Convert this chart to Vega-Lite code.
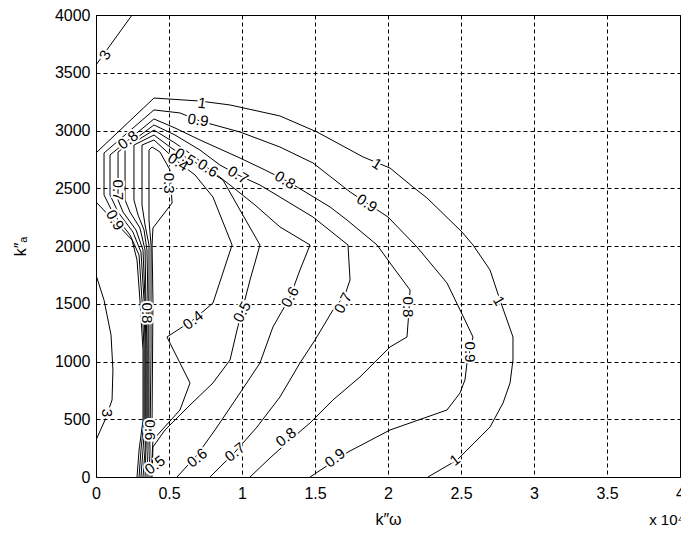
{
"$schema": "https://vega.github.io/schema/vega-lite/v6.json",
"width": 584, "height": 462,
"autosize": {"type": "none"},
"padding": {"left": 96, "top": 15, "right": 1, "bottom": 58},
"background": "white",
"config": {
 "font": "Liberation Sans",
 "view": {"stroke": "#000", "strokeWidth": 1},
 "axis": {"grid": true, "gridColor": "#000", "gridDash": [4, 3], "gridOpacity": 1, "gridWidth": 1, "domain": false, "ticks": false, "labelFont": "Liberation Sans", "labelFontSize": 16, "labelColor": "#000", "titleFont": "Liberation Sans", "titleFontSize": 16, "titleFontWeight": "normal", "titleColor": "#000"}
},
"title": {"text": "x 10⁴", "orient": "bottom", "anchor": "end", "frame": "group", "fontSize": 15, "fontWeight": "normal", "font": "Liberation Sans", "color": "#000", "offset": -14, "dx": 4},
"datasets": {
 "contours": [
  {"c":"1a","i":0,"x":0.007,"y":2814},{"c":"1a","i":1,"x":0.397,"y":3281},{"c":"1a","i":2,"x":0.712,"y":3255},{"c":"1a","i":3,"x":0.918,"y":3221},{"c":"1a","i":4,"x":1.26,"y":3126},{"c":"1a","i":5,"x":1.514,"y":2987},{"c":"1a","i":6,"x":1.829,"y":2771},{"c":"1a","i":7,"x":2.014,"y":2675},{"c":"1a","i":8,"x":2.171,"y":2511},{"c":"1a","i":9,"x":2.267,"y":2416},{"c":"1a","i":10,"x":2.507,"y":2121},{"c":"1a","i":11,"x":2.582,"y":2009},{"c":"1a","i":12,"x":2.699,"y":1792},{"c":"1a","i":13,"x":2.767,"y":1532},{"c":"1a","i":14,"x":2.856,"y":1212},{"c":"1a","i":15,"x":2.856,"y":1013},{"c":"1a","i":16,"x":2.836,"y":814},{"c":"1a","i":17,"x":2.788,"y":641},{"c":"1a","i":18,"x":2.699,"y":433},{"c":"1a","i":19,"x":2.473,"y":147},{"c":"1a","i":20,"x":2.274,"y":0},
  {"c":"1b","i":0,"x":0.007,"y":2372},{"c":"1b","i":1,"x":0.13,"y":2208},{"c":"1b","i":2,"x":0.247,"y":2052},{"c":"1b","i":3,"x":0.281,"y":1879},{"c":"1b","i":4,"x":0.301,"y":1532},{"c":"1b","i":5,"x":0.322,"y":1100},{"c":"1b","i":6,"x":0.322,"y":494},{"c":"1b","i":7,"x":0.295,"y":234},{"c":"1b","i":8,"x":0.281,"y":0},
  {"c":"p9","i":0,"x":0.295,"y":0},{"c":"p9","i":1,"x":0.308,"y":234},{"c":"p9","i":2,"x":0.329,"y":494},{"c":"p9","i":3,"x":0.329,"y":1100},{"c":"p9","i":4,"x":0.315,"y":1532},{"c":"p9","i":5,"x":0.295,"y":1922},{"c":"p9","i":6,"x":0.233,"y":2095},{"c":"p9","i":7,"x":0.116,"y":2286},{"c":"p9","i":8,"x":0.055,"y":2442},{"c":"p9","i":9,"x":0.055,"y":2805},{"c":"p9","i":10,"x":0.397,"y":3178},{"c":"p9","i":11,"x":0.575,"y":3152},{"c":"p9","i":12,"x":0.712,"y":3082},{"c":"p9","i":13,"x":0.986,"y":2987},{"c":"p9","i":14,"x":1.26,"y":2857},{"c":"p9","i":15,"x":1.486,"y":2719},{"c":"p9","i":16,"x":1.74,"y":2468},{"c":"p9","i":17,"x":2.0,"y":2251},{"c":"p9","i":18,"x":2.199,"y":1991},{"c":"p9","i":19,"x":2.404,"y":1680},{"c":"p9","i":20,"x":2.527,"y":1359},{"c":"p9","i":21,"x":2.582,"y":1212},{"c":"p9","i":22,"x":2.541,"y":987},{"c":"p9","i":23,"x":2.527,"y":840},{"c":"p9","i":24,"x":2.493,"y":727},{"c":"p9","i":25,"x":2.404,"y":580},{"c":"p9","i":26,"x":2.014,"y":407},{"c":"p9","i":27,"x":1.726,"y":216},{"c":"p9","i":28,"x":1.466,"y":0},
  {"c":"p8","i":0,"x":0.308,"y":0},{"c":"p8","i":1,"x":0.322,"y":234},{"c":"p8","i":2,"x":0.336,"y":494},{"c":"p8","i":3,"x":0.336,"y":1100},{"c":"p8","i":4,"x":0.329,"y":1532},{"c":"p8","i":5,"x":0.308,"y":1948},{"c":"p8","i":6,"x":0.253,"y":2121},{"c":"p8","i":7,"x":0.151,"y":2294},{"c":"p8","i":8,"x":0.096,"y":2442},{"c":"p8","i":9,"x":0.096,"y":2788},{"c":"p8","i":10,"x":0.397,"y":3100},{"c":"p8","i":11,"x":0.541,"y":3022},{"c":"p8","i":12,"x":0.712,"y":2918},{"c":"p8","i":13,"x":0.986,"y":2762},{"c":"p8","i":14,"x":1.158,"y":2658},{"c":"p8","i":15,"x":1.295,"y":2571},{"c":"p8","i":16,"x":1.377,"y":2511},{"c":"p8","i":17,"x":1.603,"y":2338},{"c":"p8","i":18,"x":1.719,"y":2225},{"c":"p8","i":19,"x":1.925,"y":2009},{"c":"p8","i":20,"x":2.014,"y":1853},{"c":"p8","i":21,"x":2.151,"y":1619},{"c":"p8","i":22,"x":2.144,"y":1446},{"c":"p8","i":23,"x":2.13,"y":1212},{"c":"p8","i":24,"x":2.014,"y":1126},{"c":"p8","i":25,"x":1.808,"y":866},{"c":"p8","i":26,"x":1.623,"y":667},{"c":"p8","i":27,"x":1.466,"y":468},{"c":"p8","i":28,"x":1.329,"y":320},{"c":"p8","i":29,"x":1.192,"y":165},{"c":"p8","i":30,"x":1.055,"y":0},
  {"c":"p7","i":0,"x":0.322,"y":0},{"c":"p7","i":1,"x":0.336,"y":234},{"c":"p7","i":2,"x":0.342,"y":494},{"c":"p7","i":3,"x":0.342,"y":1100},{"c":"p7","i":4,"x":0.336,"y":1532},{"c":"p7","i":5,"x":0.322,"y":1965},{"c":"p7","i":6,"x":0.274,"y":2139},{"c":"p7","i":7,"x":0.185,"y":2294},{"c":"p7","i":8,"x":0.151,"y":2398},{"c":"p7","i":9,"x":0.151,"y":2814},{"c":"p7","i":10,"x":0.397,"y":3048},{"c":"p7","i":11,"x":0.541,"y":2961},{"c":"p7","i":12,"x":0.712,"y":2831},{"c":"p7","i":13,"x":0.849,"y":2701},{"c":"p7","i":14,"x":0.973,"y":2615},{"c":"p7","i":15,"x":1.123,"y":2528},{"c":"p7","i":16,"x":1.26,"y":2424},{"c":"p7","i":17,"x":1.486,"y":2251},{"c":"p7","i":18,"x":1.726,"y":2009},{"c":"p7","i":19,"x":1.74,"y":1706},{"c":"p7","i":20,"x":1.705,"y":1576},{"c":"p7","i":21,"x":1.623,"y":1446},{"c":"p7","i":22,"x":1.5,"y":1186},{"c":"p7","i":23,"x":1.397,"y":987},{"c":"p7","i":24,"x":1.26,"y":693},{"c":"p7","i":25,"x":1.103,"y":433},{"c":"p7","i":26,"x":0.952,"y":216},{"c":"p7","i":27,"x":0.781,"y":0},
  {"c":"p6","i":0,"x":0.336,"y":0},{"c":"p6","i":1,"x":0.342,"y":234},{"c":"p6","i":2,"x":0.349,"y":494},{"c":"p6","i":3,"x":0.349,"y":1100},{"c":"p6","i":4,"x":0.342,"y":1532},{"c":"p6","i":5,"x":0.336,"y":1965},{"c":"p6","i":6,"x":0.301,"y":2156},{"c":"p6","i":7,"x":0.233,"y":2294},{"c":"p6","i":8,"x":0.199,"y":2398},{"c":"p6","i":9,"x":0.199,"y":2848},{"c":"p6","i":10,"x":0.397,"y":3004},{"c":"p6","i":11,"x":0.541,"y":2892},{"c":"p6","i":12,"x":0.678,"y":2771},{"c":"p6","i":13,"x":0.767,"y":2675},{"c":"p6","i":14,"x":0.918,"y":2528},{"c":"p6","i":15,"x":1.089,"y":2355},{"c":"p6","i":16,"x":1.26,"y":2165},{"c":"p6","i":17,"x":1.466,"y":2009},{"c":"p6","i":18,"x":1.397,"y":1792},{"c":"p6","i":19,"x":1.329,"y":1558},{"c":"p6","i":20,"x":1.212,"y":1299},{"c":"p6","i":21,"x":1.123,"y":987},{"c":"p6","i":22,"x":0.986,"y":727},{"c":"p6","i":23,"x":0.815,"y":407},{"c":"p6","i":24,"x":0.692,"y":190},{"c":"p6","i":25,"x":0.555,"y":0},
  {"c":"p5","i":0,"x":0.349,"y":0},{"c":"p5","i":1,"x":0.356,"y":234},{"c":"p5","i":2,"x":0.356,"y":494},{"c":"p5","i":3,"x":0.356,"y":1100},{"c":"p5","i":4,"x":0.356,"y":1532},{"c":"p5","i":5,"x":0.349,"y":1965},{"c":"p5","i":6,"x":0.329,"y":2139},{"c":"p5","i":7,"x":0.288,"y":2268},{"c":"p5","i":8,"x":0.26,"y":2398},{"c":"p5","i":9,"x":0.26,"y":2874},{"c":"p5","i":10,"x":0.397,"y":2961},{"c":"p5","i":11,"x":0.507,"y":2857},{"c":"p5","i":12,"x":0.61,"y":2771},{"c":"p5","i":13,"x":0.712,"y":2701},{"c":"p5","i":14,"x":0.87,"y":2571},{"c":"p5","i":15,"x":0.986,"y":2312},{"c":"p5","i":16,"x":1.123,"y":2009},{"c":"p5","i":17,"x":1.055,"y":1706},{"c":"p5","i":18,"x":1.007,"y":1472},{"c":"p5","i":19,"x":0.966,"y":1273},{"c":"p5","i":20,"x":0.918,"y":1013},{"c":"p5","i":21,"x":0.801,"y":814},{"c":"p5","i":22,"x":0.644,"y":623},{"c":"p5","i":23,"x":0.473,"y":407},{"c":"p5","i":24,"x":0.39,"y":260},{"c":"p5","i":25,"x":0.384,"y":0},
  {"c":"p4","i":0,"x":0.363,"y":0},{"c":"p4","i":1,"x":0.37,"y":234},{"c":"p4","i":2,"x":0.363,"y":494},{"c":"p4","i":3,"x":0.363,"y":1100},{"c":"p4","i":4,"x":0.363,"y":1532},{"c":"p4","i":5,"x":0.363,"y":2009},{"c":"p4","i":6,"x":0.336,"y":2182},{"c":"p4","i":7,"x":0.315,"y":2355},{"c":"p4","i":8,"x":0.315,"y":2874},{"c":"p4","i":9,"x":0.397,"y":2918},{"c":"p4","i":10,"x":0.473,"y":2831},{"c":"p4","i":11,"x":0.562,"y":2727},{"c":"p4","i":12,"x":0.678,"y":2615},{"c":"p4","i":13,"x":0.801,"y":2424},{"c":"p4","i":14,"x":0.932,"y":2009},{"c":"p4","i":15,"x":0.801,"y":1506},{"c":"p4","i":16,"x":0.664,"y":1359},{"c":"p4","i":17,"x":0.486,"y":1212},{"c":"p4","i":18,"x":0.644,"y":814},{"c":"p4","i":19,"x":0.575,"y":580},{"c":"p4","i":20,"x":0.39,"y":320},{"c":"p4","i":21,"x":0.377,"y":0},
  {"c":"p3","i":0,"x":0.37,"y":320},{"c":"p3","i":1,"x":0.377,"y":1100},{"c":"p3","i":2,"x":0.377,"y":2009},{"c":"p3","i":3,"x":0.363,"y":2225},{"c":"p3","i":4,"x":0.363,"y":2831},{"c":"p3","i":5,"x":0.384,"y":2857},{"c":"p3","i":6,"x":0.438,"y":2814},{"c":"p3","i":7,"x":0.507,"y":2658},{"c":"p3","i":8,"x":0.521,"y":2372},{"c":"p3","i":9,"x":0.39,"y":2156},{"c":"p3","i":10,"x":0.384,"y":2009},{"c":"p3","i":11,"x":0.39,"y":1532},{"c":"p3","i":12,"x":0.384,"y":494},{"c":"p3","i":13,"x":0.37,"y":320},
  {"c":"t3a","i":0,"x":0,"y":3567},{"c":"t3a","i":1,"x":0.247,"y":4000},
  {"c":"t3b","i":0,"x":0,"y":1749},{"c":"t3b","i":1,"x":0.055,"y":1532},{"c":"t3b","i":2,"x":0.103,"y":1229},{"c":"t3b","i":3,"x":0.116,"y":926},{"c":"t3b","i":4,"x":0.11,"y":667},{"c":"t3b","i":5,"x":0.062,"y":494},{"c":"t3b","i":6,"x":0,"y":320}
 ],
 "labA": [{"t":"1","x":0.726,"y":3238},{"t":"0.9","x":0.699,"y":3091}],
 "labB": [{"t":"0.4","x":0.562,"y":2727},{"t":"0.5","x":0.61,"y":2771},{"t":"0.6","x":0.767,"y":2675},{"t":"0.7","x":0.973,"y":2615},{"t":"0.8","x":1.295,"y":2571},{"t":"1","x":1.925,"y":2710},{"t":"0.9","x":1.856,"y":2372}],
 "labC": [{"t":"0.7","x":0.151,"y":2485},{"t":"0.3","x":0.5,"y":2545},{"t":"0.8","x":2.137,"y":1472},{"t":"0.9","x":2.565,"y":1082},{"t":"3","x":0.075,"y":554},{"t":"0.8","x":0.349,"y":1420},{"t":"0.6","x":0.37,"y":407}],
 "labD": [{"t":"0.9","x":0.13,"y":2225},{"t":"1","x":2.76,"y":1524}],
 "labE": [{"t":"0.8","x":0.219,"y":2918},{"t":"0.4","x":0.664,"y":1359},{"t":"0.5","x":0.404,"y":104},{"t":"0.6","x":0.692,"y":165},{"t":"0.7","x":0.952,"y":216},{"t":"0.8","x":1.301,"y":346},{"t":"0.9","x":1.637,"y":165},{"t":"1","x":2.459,"y":147}],
 "labF": [{"t":"3","x":0.062,"y":3654},{"t":"0.7","x":1.692,"y":1506},{"t":"0.6","x":1.329,"y":1558},{"t":"0.5","x":1.0,"y":1430}]
},
"encoding": {
 "x": {"field": "x", "type": "quantitative", "scale": {"domain": [0, 4], "nice": false, "zero": false}, "axis": {"values": [0, 0.5, 1, 1.5, 2, 2.5, 3, 3.5, 4], "format": "~g", "labelPadding": 8, "labelFlush": false, "labelOverlap": false, "title": "k″ω", "titlePadding": 10}},
 "y": {"field": "y", "type": "quantitative", "scale": {"domain": [0, 4000], "nice": false, "zero": false}, "axis": {"values": [0, 500, 1000, 1500, 2000, 2500, 3000, 3500, 4000], "format": "d", "labelPadding": 6, "labelFlush": false, "labelOverlap": false, "title": "k″ₐ", "titlePadding": 26}}
},
"layer": [
 {"data": {"name": "contours"}, "mark": {"type": "line", "color": "#000", "strokeWidth": 1, "clip": true}, "encoding": {"detail": {"field": "c", "type": "nominal"}, "order": {"field": "i", "type": "quantitative"}}},
 {"data": {"name": "labA"}, "encoding": {"text": {"field": "t", "type": "nominal"}}, "layer": [
  {"mark": {"type": "text", "angle": 8, "fontSize": 15, "fill": "white", "stroke": "white", "strokeWidth": 4}},
  {"mark": {"type": "text", "angle": 8, "fontSize": 15, "color": "#000"}}]},
 {"data": {"name": "labB"}, "encoding": {"text": {"field": "t", "type": "nominal"}}, "layer": [
  {"mark": {"type": "text", "angle": 32, "fontSize": 15, "fill": "white", "stroke": "white", "strokeWidth": 4}},
  {"mark": {"type": "text", "angle": 32, "fontSize": 15, "color": "#000"}}]},
 {"data": {"name": "labC"}, "encoding": {"text": {"field": "t", "type": "nominal"}}, "layer": [
  {"mark": {"type": "text", "angle": 90, "fontSize": 15, "fill": "white", "stroke": "white", "strokeWidth": 4}},
  {"mark": {"type": "text", "angle": 90, "fontSize": 15, "color": "#000"}}]},
 {"data": {"name": "labD"}, "encoding": {"text": {"field": "t", "type": "nominal"}}, "layer": [
  {"mark": {"type": "text", "angle": 60, "fontSize": 15, "fill": "white", "stroke": "white", "strokeWidth": 4}},
  {"mark": {"type": "text", "angle": 60, "fontSize": 15, "color": "#000"}}]},
 {"data": {"name": "labE"}, "encoding": {"text": {"field": "t", "type": "nominal"}}, "layer": [
  {"mark": {"type": "text", "angle": -38, "fontSize": 15, "fill": "white", "stroke": "white", "strokeWidth": 4}},
  {"mark": {"type": "text", "angle": -38, "fontSize": 15, "color": "#000"}}]},
 {"data": {"name": "labF"}, "encoding": {"text": {"field": "t", "type": "nominal"}}, "layer": [
  {"mark": {"type": "text", "angle": -62, "fontSize": 15, "fill": "white", "stroke": "white", "strokeWidth": 4}},
  {"mark": {"type": "text", "angle": -62, "fontSize": 15, "color": "#000"}}]}
]
}
